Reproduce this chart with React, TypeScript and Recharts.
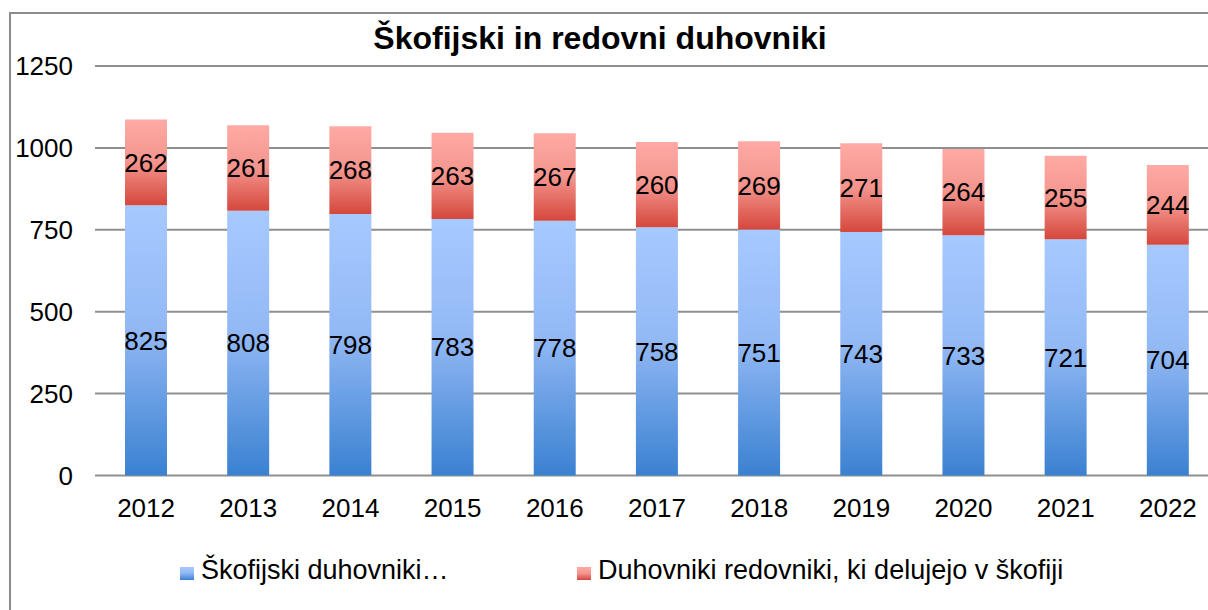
import { Bar, BarChart, CartesianGrid, LabelList, XAxis, YAxis } from "recharts";

const years = ["2012", "2013", "2014", "2015", "2016", "2017", "2018", "2019", "2020", "2021", "2022"];
const diocesanPriests = [825, 808, 798, 783, 778, 758, 751, 743, 733, 721, 704];
const religiousPriests = [262, 261, 268, 263, 267, 260, 269, 271, 264, 255, 244];
const yTicks = [0, 250, 500, 750, 1000, 1250];

const titleText = "Škofijski in redovni duhovniki";
const diocesanLabel = "Škofijski duhovniki…";
const religiousLabel = "Duhovniki redovniki, ki delujejo v škofiji";

const font = '"Liberation Sans", Arial, sans-serif';

const chartData = years.map((year, i) => ({
  year,
  diocesan: diocesanPriests[i],
  religious: religiousPriests[i],
}));

function LegendItem({ left, label, grad }: { left: number; label: string; grad: string }) {
  return (
    <div style={{ position: "absolute", left, top: 557, display: "flex", alignItems: "flex-start" }}>
      <div style={{ width: 14, height: 13, marginTop: 10, background: grad }} />
      <div style={{ marginLeft: 7, fontSize: 27, lineHeight: "27px", color: "#000", whiteSpace: "nowrap" }}>{label}</div>
    </div>
  );
}

export default function App() {
  return (
    <div
      style={{
        position: "fixed",
        left: 0,
        top: 0,
        width: 1208,
        height: 610,
        overflow: "hidden",
        background: "#fff",
        fontFamily: font,
      }}
    >
      <div
        style={{
          position: "absolute",
          left: 9,
          top: 12,
          width: 1300,
          height: 700,
          border: "2px solid #8c8c8c",
          boxSizing: "border-box",
        }}
      />

      <div
        style={{
          position: "absolute",
          left: 0,
          top: 22,
          width: 1200,
          textAlign: "center",
          fontSize: 32,
          lineHeight: "32px",
          fontWeight: 700,
          color: "#000",
        }}
      >
        {titleText}
      </div>

      <div style={{ position: "absolute", left: 0, top: 0 }}>
        <BarChart
          width={1240}
          height={620}
          data={chartData}
          margin={{ top: 66, right: 21, bottom: 84.5, left: 15 }}
          barSize={42}
        >
          <defs>
            <linearGradient id="blueGrad" x1="0" y1="0" x2="0" y2="1">
              <stop offset="0" stopColor="#a6c9ff" />
              <stop offset="0.45" stopColor="#93b9f5" />
              <stop offset="1" stopColor="#3a81d1" />
            </linearGradient>
            <linearGradient id="redGrad" x1="0" y1="0" x2="0" y2="1">
              <stop offset="0" stopColor="#ffaaa5" />
              <stop offset="0.5" stopColor="#f3948d" />
              <stop offset="1" stopColor="#d5473c" />
            </linearGradient>
          </defs>
          <CartesianGrid vertical={false} stroke="#8f8f8f" strokeWidth={2} />
          <XAxis
            dataKey="year"
            axisLine={false}
            tickLine={false}
            tickSize={0}
            tickMargin={23}
            height={60}
            tick={{ fill: "#000", fontSize: 26, fontFamily: font }}
          />
          <YAxis
            domain={[0, 1250]}
            ticks={yTicks}
            axisLine={false}
            tickLine={false}
            tickSize={0}
            tickMargin={22}
            width={80}
            tick={{ fill: "#000", fontSize: 26, fontFamily: font }}
          />
          <Bar dataKey="diocesan" stackId="a" fill="url(#blueGrad)" isAnimationActive={false}>
            <LabelList dataKey="diocesan" position="center" fill="#000" fontSize={26} fontFamily={font} />
          </Bar>
          <Bar dataKey="religious" stackId="a" fill="url(#redGrad)" isAnimationActive={false}>
            <LabelList dataKey="religious" position="center" fill="#000" fontSize={26} fontFamily={font} />
          </Bar>
        </BarChart>
      </div>

      <LegendItem left={180} label={diocesanLabel} grad="linear-gradient(#a6c9ff, #93b9f5 45%, #3a81d1)" />
      <LegendItem left={577} label={religiousLabel} grad="linear-gradient(#ffaaa5, #f3948d 50%, #d5473c)" />
    </div>
  );
}
